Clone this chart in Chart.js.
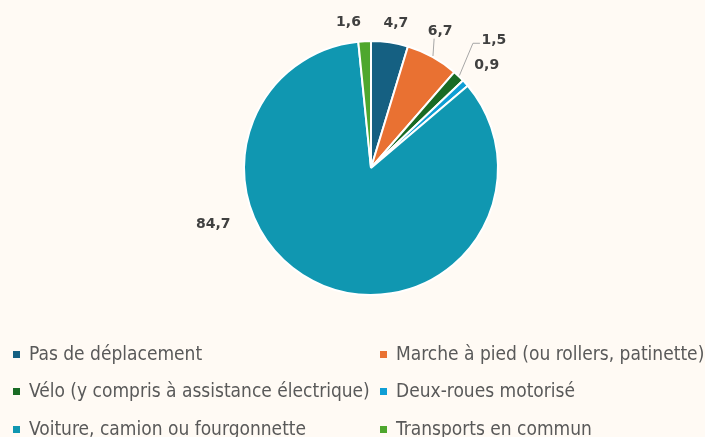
<!DOCTYPE html>
<html lang="fr">

<head>
    <meta charset="UTF-8">
    <title>Mode de déplacement</title>
    <style>
        html, body { margin: 0; padding: 0; background: #fffaf4; }
        #wrap { width: 705px; height: 437px; }
    </style>
</head>

<body>
    <div id="wrap"><canvas id="pieChart" width="705" height="437"></canvas></div>
</body>

<script src="https://cdn.jsdelivr.net/npm/chart.js"></script>

<script>
    // data
    const categories = [
        'Pas de déplacement',
        'Marche à pied (ou rollers, patinette)',
        'Vélo (y compris à assistance électrique)',
        'Deux-roues motorisé',
        'Voiture, camion ou fourgonnette',
        'Transports en commun'
    ];
    const shares = [4.7, 6.7, 1.5, 0.9, 84.7, 1.6];

    const colors = ['#156082', '#e97132', '#196b24', '#0f9ed5', '#1097b1', '#4ea72e'];

    // nudges for the value labels (dx, dy from the default outside spot)
    const labelNudge = [[3, 3], [-3, -6], [20, -20], [5, -3], [-102, -82], [-15, 3]];
    const withLeader = [1, 2];

    const fmt = v => v.toFixed(1).replace('.', ',');

    const outsideLabels = {
        id: 'outsideLabels',
        afterDatasetsDraw(chart) {
            const ctx = chart.ctx;
            const meta = chart.getDatasetMeta(0);
            ctx.save();
            meta.data.forEach((arc, i) => {
                const p = arc.getProps(['x', 'y', 'startAngle', 'endAngle', 'outerRadius'], true);
                const mid = (p.startAngle + p.endAngle) / 2;
                const lx = p.x + Math.cos(mid) * (p.outerRadius + 22) + labelNudge[i][0];
                const ly = p.y + Math.sin(mid) * (p.outerRadius + 22) + labelNudge[i][1];
                if (withLeader.includes(i)) {
                    const ex = p.x + Math.cos(mid) * (p.outerRadius + 1);
                    const ey = p.y + Math.sin(mid) * (p.outerRadius + 1);
                    ctx.strokeStyle = '#a6a6a6';
                    ctx.lineWidth = 1;
                    ctx.beginPath();
                    ctx.moveTo(ex, ey);
                    if (i === 2) {
                        ctx.lineTo(lx - 21, ly + 3);
                        ctx.lineTo(lx - 14, ly + 3);
                    } else {
                        ctx.lineTo(lx - 6, ly + 7);
                    }
                    ctx.stroke();
                }
                ctx.fillStyle = '#404040';
                ctx.font = 'bold 14px "DejaVu Sans"';
                ctx.textAlign = 'center';
                ctx.textBaseline = 'middle';
                ctx.fillText(fmt(shares[i]), lx, ly);
            });

            // legend in two columns
            const colX = [13, 380];
            const rowY = [355, 392, 430];
            ctx.font = '19px "Liberation Sans Narrow", "DejaVu Sans Condensed", sans-serif';
            ctx.textAlign = 'left';
            chart.data.labels.forEach((lab, i) => {
                const x = colX[i % 2];
                const y = rowY[Math.floor(i / 2)];
                ctx.fillStyle = colors[i];
                ctx.fillRect(x, y - 4, 7, 7);
                ctx.fillStyle = '#595959';
                ctx.fillText(lab, x + 16, y);
            });
            ctx.restore();
        }
    };

    const ctx = document.getElementById('pieChart').getContext('2d');
    const chart = new Chart(ctx, {
        type: 'pie',
        data: {
            labels: categories,
            datasets: [{
                data: shares,
                backgroundColor: colors,
                borderColor: '#ffffff',
                borderWidth: 2
            }]
        },
        options: {
            responsive: false,
            animation: false,
            layout: {
                padding: { top: 40, bottom: 141, left: 243, right: 206 }
            },
            plugins: {
                legend: { display: false },
                tooltip: { enabled: false }
            }
        },
        plugins: [outsideLabels]
    });
</script>

</html>
